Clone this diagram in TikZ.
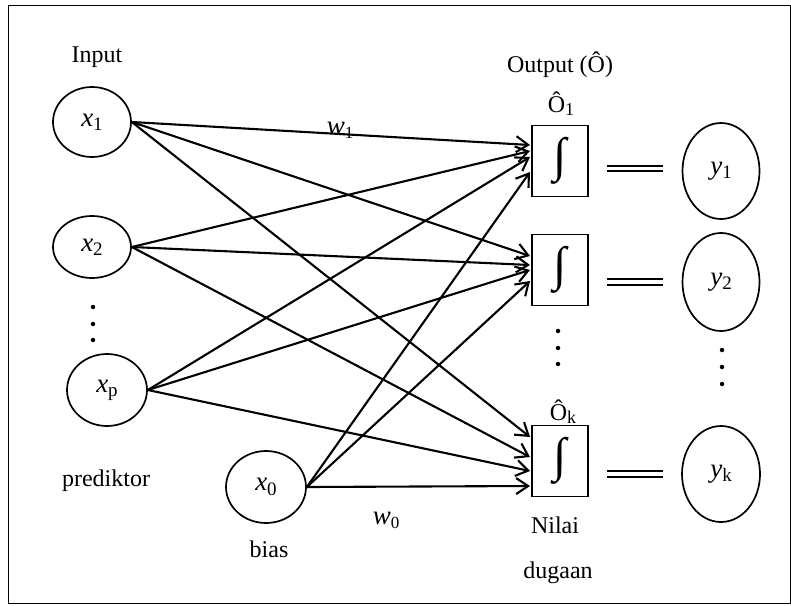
\documentclass[tikz,border=0pt]{standalone}
\usepackage{fontspec}
\setmainfont{Liberation Serif}
\usetikzlibrary{shapes.geometric,arrows.meta,calc}
\newcommand{\vlbl}[2]{\textit{#1}\raisebox{-0.35ex}{\fontsize{19}{19}\selectfont #2}}
\newcommand{\wlbl}[2]{\textit{#1}\raisebox{-0.35ex}{\fontsize{17}{17}\selectfont #2}}
\newcommand{\olbl}[1]{Ô\raisebox{-0.35ex}{\fontsize{18}{18}\selectfont #1}}
\begin{document}
\begin{tikzpicture}[x=1pt,y=-1pt,
  inp/.style={ellipse, draw, line width=1.7pt, inner sep=0pt, font=\fontsize{27}{30}\selectfont},
  actbox/.style={draw, line width=1.7pt, minimum width=56pt, minimum height=71pt, inner sep=0pt},
  link/.style={line width=2.1pt, -{Straight Barb[length=12pt,width=16pt,line width=2.1pt]}},
  dbl/.style={line width=1.8pt},
  txt/.style={font=\fontsize{24}{28}\selectfont, inner sep=0pt, anchor=base},
  dotm/.style={circle, fill, inner sep=0pt, minimum size=4.5pt}]
\useasboundingbox (0,0) rectangle (791,605);
\draw[line width=1pt] (8,5) rectangle (790,603);

% input nodes
\node[inp, minimum width=78pt, minimum height=70pt] (x1) at (92,122) {\vlbl{x}{1}};
\node[inp, minimum width=78pt, minimum height=62pt] (x2) at (92,247) {\vlbl{x}{2}};
\node[inp, minimum width=80pt, minimum height=72pt] (xp) at (107,390) {\vlbl{x}{p}};
\node[inp, minimum width=80pt, minimum height=72pt] (x0) at (266,487) {\vlbl{x}{0}};

\node[dotm] (dl1) at (93,307) {};
\node[dotm] (dl2) at (93,324) {};
\node[dotm] (dl3) at (93,340) {};

% activation boxes
\node[actbox] (o1) at (560,161) {\fontsize{48}{50}\selectfont ∫};
\node[actbox] (o2) at (560,270) {\fontsize{48}{50}\selectfont ∫};
\node[actbox] (ok) at (560,461) {\fontsize{48}{50}\selectfont ∫};

\node[dotm] (dm1) at (558,331) {};
\node[dotm] (dm2) at (558,348) {};
\node[dotm] (dm3) at (558,364) {};

% output nodes
\node[inp, minimum width=77pt, minimum height=96pt] (y1) at (721,171) {\vlbl{y}{1}};
\node[inp, minimum width=77pt, minimum height=98pt] (y2) at (721,282) {\vlbl{y}{2}};
\node[inp, minimum width=78pt, minimum height=96pt] (yk) at (721,474) {\vlbl{y}{k}};

\node[dotm] (dr1) at (722,350) {};
\node[dotm] (dr2) at (722,367) {};
\node[dotm] (dr3) at (722,384) {};

% double connectors
\coordinate (d1a) at (607,166); \coordinate (d1b) at (663,166);
\coordinate (d1c) at (607,171); \coordinate (d1d) at (663,171);
\draw[dbl] (d1a) -- (d1b); \draw[dbl] (d1c) -- (d1d);
\coordinate (d2a) at (607,279); \coordinate (d2b) at (663,279);
\coordinate (d2c) at (607,285); \coordinate (d2d) at (663,285);
\draw[dbl] (d2a) -- (d2b); \draw[dbl] (d2c) -- (d2d);
\coordinate (dka) at (607,471); \coordinate (dkb) at (663,471);
\coordinate (dkc) at (607,477); \coordinate (dkd) at (663,477);
\draw[dbl] (dka) -- (dkb); \draw[dbl] (dkc) -- (dkd);

% arrow end points
\coordinate (t11) at (530,145); \coordinate (t21) at (530,151);
\coordinate (tp1) at (530,157); \coordinate (t01) at (530,172);
\coordinate (t12) at (530,256); \coordinate (t22) at (530,265);
\coordinate (tp2) at (530,270); \coordinate (t02) at (530,281);
\coordinate (t1k) at (530,437); \coordinate (t2k) at (530,457);
\coordinate (tpk) at (530,471); \coordinate (t0k) at (530,486);

\draw[link] (x1.east) -- (t11);
\draw[link] (x1.east) -- (t12);
\draw[link] (x1.east) -- (t1k);
\draw[link] (x2.east) -- (t21);
\draw[link] (x2.east) -- (t22);
\draw[link] (x2.east) -- (t2k);
\draw[link] (xp.east) -- (tp1);
\draw[link] (xp.east) -- (tp2);
\draw[link] (xp.east) -- (tpk);
\draw[link] (x0.east) -- (t01);
\draw[link] (x0.east) -- (t02);
\draw[link] (x0.east) -- (t0k);

% labels
\node[txt] (tin) at (97,62) {Input};
\node[txt] (tout) at (560,72) {Output (Ô)};
\node[txt] (to1) at (561,112) {\olbl{1}};
\node[txt] (tok) at (563,420) {\olbl{k}};
\node[txt, font=\fontsize{27}{30}\selectfont] (tw1) at (340,134) {\wlbl{w}{1}};
\node[txt, font=\fontsize{27}{30}\selectfont] (tw0) at (386,524) {\wlbl{w}{0}};
\node[txt] (tpred) at (106,486) {prediktor};
\node[txt] (tbias) at (269,557) {bias};
\node[txt] (tnil) at (555,533) {Nilai};
\node[txt] (tdug) at (558,578) {dugaan};
\end{tikzpicture}
\end{document}
